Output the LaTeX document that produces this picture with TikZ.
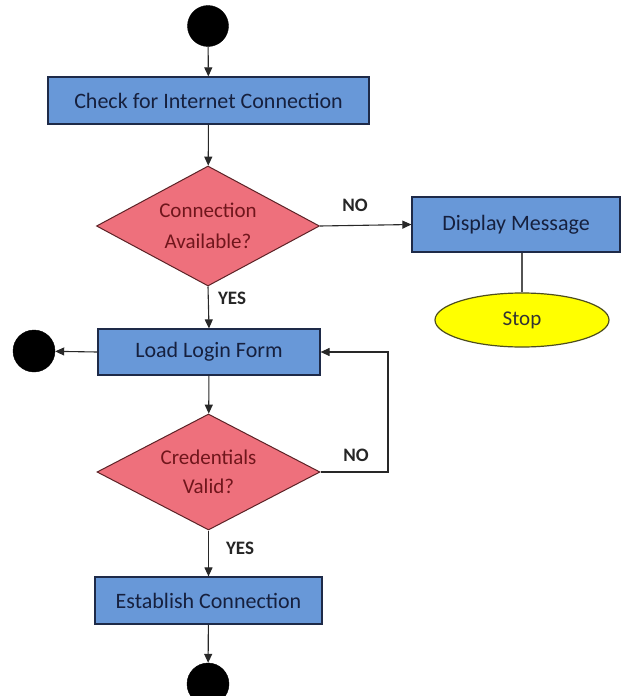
\documentclass[tikz,border=0pt]{standalone}
\usepackage{fontspec}
\setmainfont{Carlito}
\usetikzlibrary{shapes.geometric,arrows.meta}

\definecolor{boxfill}{RGB}{104,152,216}
\definecolor{boxline}{RGB}{30,42,72}
\definecolor{boxtext}{RGB}{22,32,62}
\definecolor{decfill}{RGB}{238,112,124}
\definecolor{decline}{RGB}{92,34,38}
\definecolor{dectext}{RGB}{112,22,28}
\definecolor{stopfill}{RGB}{255,255,0}
\definecolor{stopline}{RGB}{78,78,30}
\definecolor{wire}{RGB}{40,40,40}

\tikzset{
  procbox/.style={draw=boxline, fill=boxfill, line width=1.2pt, text=boxtext,
    font=\fontsize{22}{26}\selectfont, inner sep=0pt, rectangle},
  decision/.style={diamond, draw=decline, fill=decfill, line width=1pt, text=dectext,
    align=center, inner sep=0pt, shape aspect=1.86},
  terminal/.style={circle, fill=black, draw=black, inner sep=0pt},
  stopshape/.style={ellipse, draw=stopline, fill=stopfill, line width=1.2pt,
    text=black!80, font=\fontsize{21}{25}\selectfont, inner sep=0pt},
  flow/.style={draw=wire, line width=1.1pt, -{Triangle[length=9pt,width=8pt]}},
  plainflow/.style={draw=wire!80, line width=1.1pt},
  branchlabel/.style={font=\fontsize{19}{22}\selectfont\bfseries, text=black!85}
}

\begin{document}
\begin{tikzpicture}[x=1pt,y=-1pt]
  \useasboundingbox (0,0) rectangle (624,696);
  \fill[white] (0,0) rectangle (624,696);

  % start and end points
  \node[terminal, minimum size=41pt] (start) at (208,26) {};
  \node[terminal, minimum size=42pt] (abort) at (34,351) {};
  \node[terminal, minimum size=42pt] (finish) at (208,684) {};

  % process steps
  \node[procbox, minimum width=321pt, minimum height=47pt] (check) at (208.5,100.5)
    {Check for Internet Connection};
  \node[procbox, minimum width=208pt, minimum height=55pt] (display) at (516,224.5)
    {Display Message};
  \node[procbox, minimum width=222pt, minimum height=46pt] (login) at (209,352)
    {Load Login Form};
  \node[procbox, minimum width=227pt, minimum height=47pt] (establish) at (208.5,600.5)
    {Establish Connection};

  % decisions
  \node[decision, font=\fontsize{21}{31}\selectfont, minimum width=223pt,
    minimum height=120pt] (conn) at (208,226) {Connection\\Available?};
  \node[decision, font=\fontsize{21}{29}\selectfont, minimum width=223pt,
    minimum height=116pt] (cred) at (208.5,472) {Credentials\\Valid?};

  % stop
  \node[stopshape, minimum width=174pt, minimum height=54pt] (stop) at (522,320) {Stop};

  % connectors
  \draw[flow] (start) -- (check);
  \draw[flow] (check) -- (conn);
  \draw[flow] (conn.east) -- (display.west);
  \draw[plainflow] (display.south -| stop.north) -- (stop.north);
  \draw[flow] (conn.south) -- (login.north);
  \draw[flow] (login.west) -- (abort);
  \draw[flow] (login) -- (cred);
  \coordinate (loopcorner) at (388,472);
  \draw[flow] (cred.east) -- (loopcorner) |- (login.east);
  \draw[flow] (cred.south) -- (establish.north);
  \draw[flow] (establish) -- (finish);

  % branch labels
  \node[branchlabel] (noA) at (355,205) {NO};
  \node[branchlabel] (yesA) at (232,298) {YES};
  \node[branchlabel] (noB) at (356,455) {NO};
  \node[branchlabel] (yesB) at (240,548) {YES};
\end{tikzpicture}
\end{document}
